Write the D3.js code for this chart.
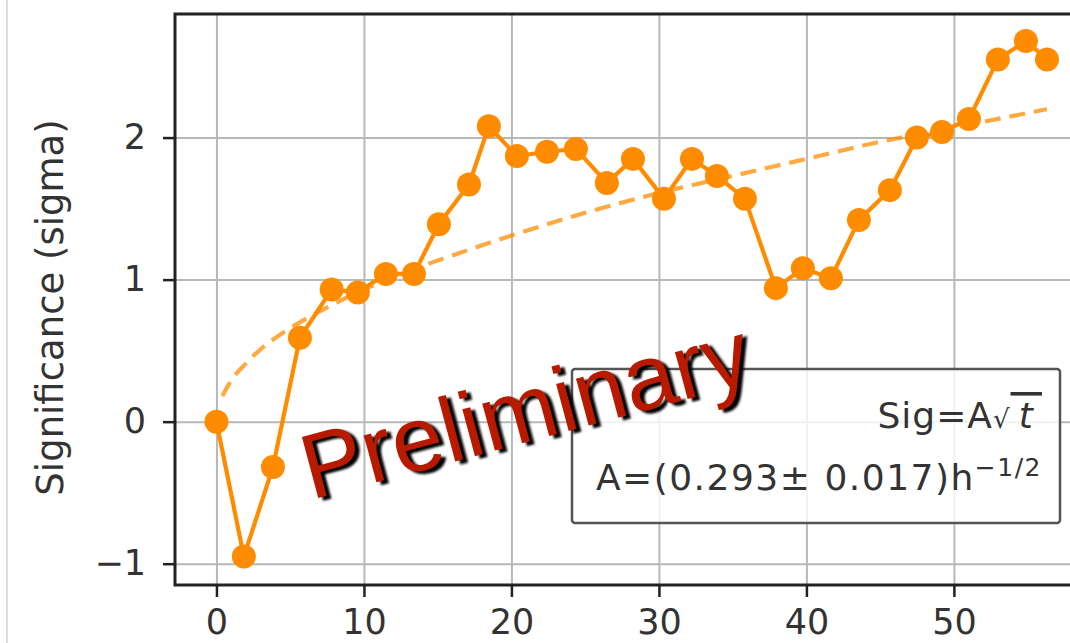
<!DOCTYPE html>
<html>
<head>
<meta charset="utf-8">
<script src="https://cdn.jsdelivr.net/npm/d3@7"></script>
<style>
  body { margin: 0; background: #fff; }
  svg { display: block; }
  text { font-family: "DejaVu Sans", sans-serif; }
</style>
</head>
<body>
<div id="chart"></div>
<script>
var hours = [0, 1.86, 3.83, 5.66, 7.81, 9.59, 11.49, 13.39, 15.08, 17.12, 18.47,
  20.37, 22.41, 24.37, 26.47, 28.24, 30.34, 32.24, 33.93, 35.83, 37.93,
  39.76, 41.66, 43.56, 45.66, 47.49, 49.19, 51.02, 52.98, 54.88, 56.31];
var sig = [0, -0.95, -0.32, 0.59, 0.93, 0.91, 1.04, 1.04, 1.39, 1.67, 2.08,
  1.87, 1.90, 1.92, 1.68, 1.85, 1.57, 1.85, 1.73, 1.57, 0.94,
  1.08, 1.01, 1.42, 1.63, 2.00, 2.04, 2.13, 2.55, 2.68, 2.55];

// dashed fit curve
var fitHours = [0.4, 1, 2, 3, 4, 6, 8, 10, 13, 16, 20, 25, 30, 35, 40, 45, 50, 56.3];
var fitSig = [0.18, 0.29, 0.41, 0.51, 0.59, 0.72, 0.83, 0.93, 1.06, 1.17, 1.31,
  1.47, 1.61, 1.73, 1.85, 1.97, 2.07, 2.20];

var xTicks = [0, 10, 20, 30, 40, 50];
var yTicks = [-1, 0, 1, 2];

var W = 1070, H = 643;
var margin = { top: 14, left: 175, bottom: 58 };
var plotBottom = H - margin.bottom;
var orange = "#ff8c00";

var svg = d3.select("#chart").append("svg")
  .attr("width", W)
  .attr("height", H);

// faint line at far left
svg.append("line")
  .attr("x1", 7).attr("x2", 7).attr("y1", 0).attr("y2", H)
  .attr("stroke", "#dcdcdc").attr("stroke-width", 2);

var x = d3.scaleLinear().domain([-2.81, 58.8]).range([margin.left, 1083.7]);
var y = d3.scaleLinear().domain([-1.15, 2.87]).range([plotBottom, margin.top]);

var defs = svg.append("defs");
defs.append("clipPath").attr("id", "clip")
  .append("rect")
  .attr("x", margin.left).attr("y", margin.top)
  .attr("width", W - margin.left).attr("height", plotBottom - margin.top);
var shadow = defs.append("filter").attr("id", "blur")
  .attr("x", "-10%").attr("y", "-10%").attr("width", "120%").attr("height", "120%");
shadow.append("feGaussianBlur").attr("stdDeviation", 1.2);

// grid
svg.append("g")
  .attr("class", "grid")
  .attr("transform", "translate(0," + plotBottom + ")")
  .call(d3.axisBottom(x).tickValues(xTicks).tickSize(-(plotBottom - margin.top)).tickFormat(""))
  .call(function(g) { g.select(".domain").remove(); });
svg.append("g")
  .attr("class", "grid")
  .attr("transform", "translate(" + margin.left + ",0)")
  .call(d3.axisLeft(y).tickValues(yTicks).tickSize(-(W - margin.left)).tickFormat(""))
  .call(function(g) { g.select(".domain").remove(); });
svg.selectAll(".grid line")
  .attr("stroke", "#b8b8b8")
  .attr("stroke-width", 2);

var plot = svg.append("g").attr("clip-path", "url(#clip)");

// fit
var fitData = fitHours.map(function(h, i) { return { h: h, s: fitSig[i] }; });
plot.append("path")
  .datum(fitData)
  .attr("fill", "none")
  .attr("stroke", orange)
  .attr("stroke-opacity", 0.75)
  .attr("stroke-width", 4.2)
  .attr("stroke-dasharray", "16,9")
  .attr("d", d3.line()
    .x(function(d) { return x(d.h); })
    .y(function(d) { return y(d.s); })
    .curve(d3.curveMonotoneX));

// measured significance
var data = hours.map(function(h, i) { return { h: h, s: sig[i] }; });
plot.append("path")
  .datum(data)
  .attr("fill", "none")
  .attr("stroke", orange)
  .attr("stroke-width", 4.2)
  .attr("d", d3.line()
    .x(function(d) { return x(d.h); })
    .y(function(d) { return y(d.s); }));

plot.selectAll(".dot")
  .data(data)
  .enter().append("circle")
  .attr("class", "dot")
  .attr("cx", function(d) { return x(d.h); })
  .attr("cy", function(d) { return y(d.s); })
  .attr("r", 12)
  .attr("fill", orange);

// axes
var xAxis = svg.append("g")
  .attr("transform", "translate(0," + plotBottom + ")")
  .call(d3.axisBottom(x).tickValues(xTicks).tickSize(12).tickPadding(12).tickFormat(d3.format("d")));
var yAxis = svg.append("g")
  .attr("transform", "translate(" + margin.left + ",0)")
  .call(d3.axisLeft(y).tickValues(yTicks).tickSize(12).tickPadding(17).tickFormat(d3.format("d")));
[xAxis, yAxis].forEach(function(g) {
  g.select(".domain").remove();
  g.selectAll(".tick line").attr("stroke", "#222").attr("stroke-width", 2.5);
  g.selectAll(".tick text")
    .attr("fill", "#333")
    .style("font-family", "'DejaVu Sans', sans-serif")
    .style("font-size", "35px");
});

// spines: left, top, bottom (right edge falls outside the picture)
var spine = svg.append("g")
  .attr("stroke", "#222").attr("stroke-width", 3).attr("fill", "none");
spine.append("path")
  .attr("d", "M" + W + "," + margin.top + "H" + margin.left + "V" + plotBottom + "H" + W);

// y label
svg.append("text")
  .attr("transform", "translate(63," + ((margin.top + plotBottom) / 2 + 8) + ") rotate(-90)")
  .attr("text-anchor", "middle")
  .attr("fill", "#333")
  .style("font-size", "37px")
  .text("Significance (sigma)");

// legend box
var leg = svg.append("g");
leg.append("rect")
  .attr("x", 572).attr("y", 369)
  .attr("width", 488).attr("height", 154)
  .attr("rx", 3)
  .attr("fill", "#fff").attr("fill-opacity", 0.8)
  .attr("stroke", "#555").attr("stroke-width", 2.5);

var line1 = leg.append("text")
  .attr("x", 1042).attr("y", 428)
  .attr("text-anchor", "end")
  .attr("fill", "#333")
  .style("font-size", "36px")
  .style("letter-spacing", "1px");
line1.append("tspan").text("Sig=A");
line1.append("tspan").style("font-size", "26px").text("\u221A");
line1.append("tspan")
  .style("font-style", "italic")
  .style("text-decoration", "overline")
  .text("\u2009t\u2009");

var line2 = leg.append("text")
  .attr("x", 1042).attr("y", 490)
  .attr("text-anchor", "end")
  .attr("fill", "#333")
  .style("font-size", "36px")
  .style("letter-spacing", "1.5px");
line2.append("tspan").text("A=(0.293\u00B1 0.017)h");
line2.append("tspan").attr("dy", -14).style("font-size", "25px").text("\u22121/2");

// watermark
var wm = svg.append("g")
  .attr("transform", "translate(311,500) rotate(-15)");
wm.append("text")
  .attr("x", 4).attr("y", 4)
  .attr("fill", "#000")
  .attr("filter", "url(#blur)")
  .style("font-family", "'Liberation Sans', Arial, sans-serif")
  .style("font-size", "92px")
  .text("Preliminary");
wm.append("text")
  .attr("fill", "#b81a00")
  .style("font-family", "'Liberation Sans', Arial, sans-serif")
  .style("font-size", "92px")
  .text("Preliminary");
</script>
</body>
</html>
